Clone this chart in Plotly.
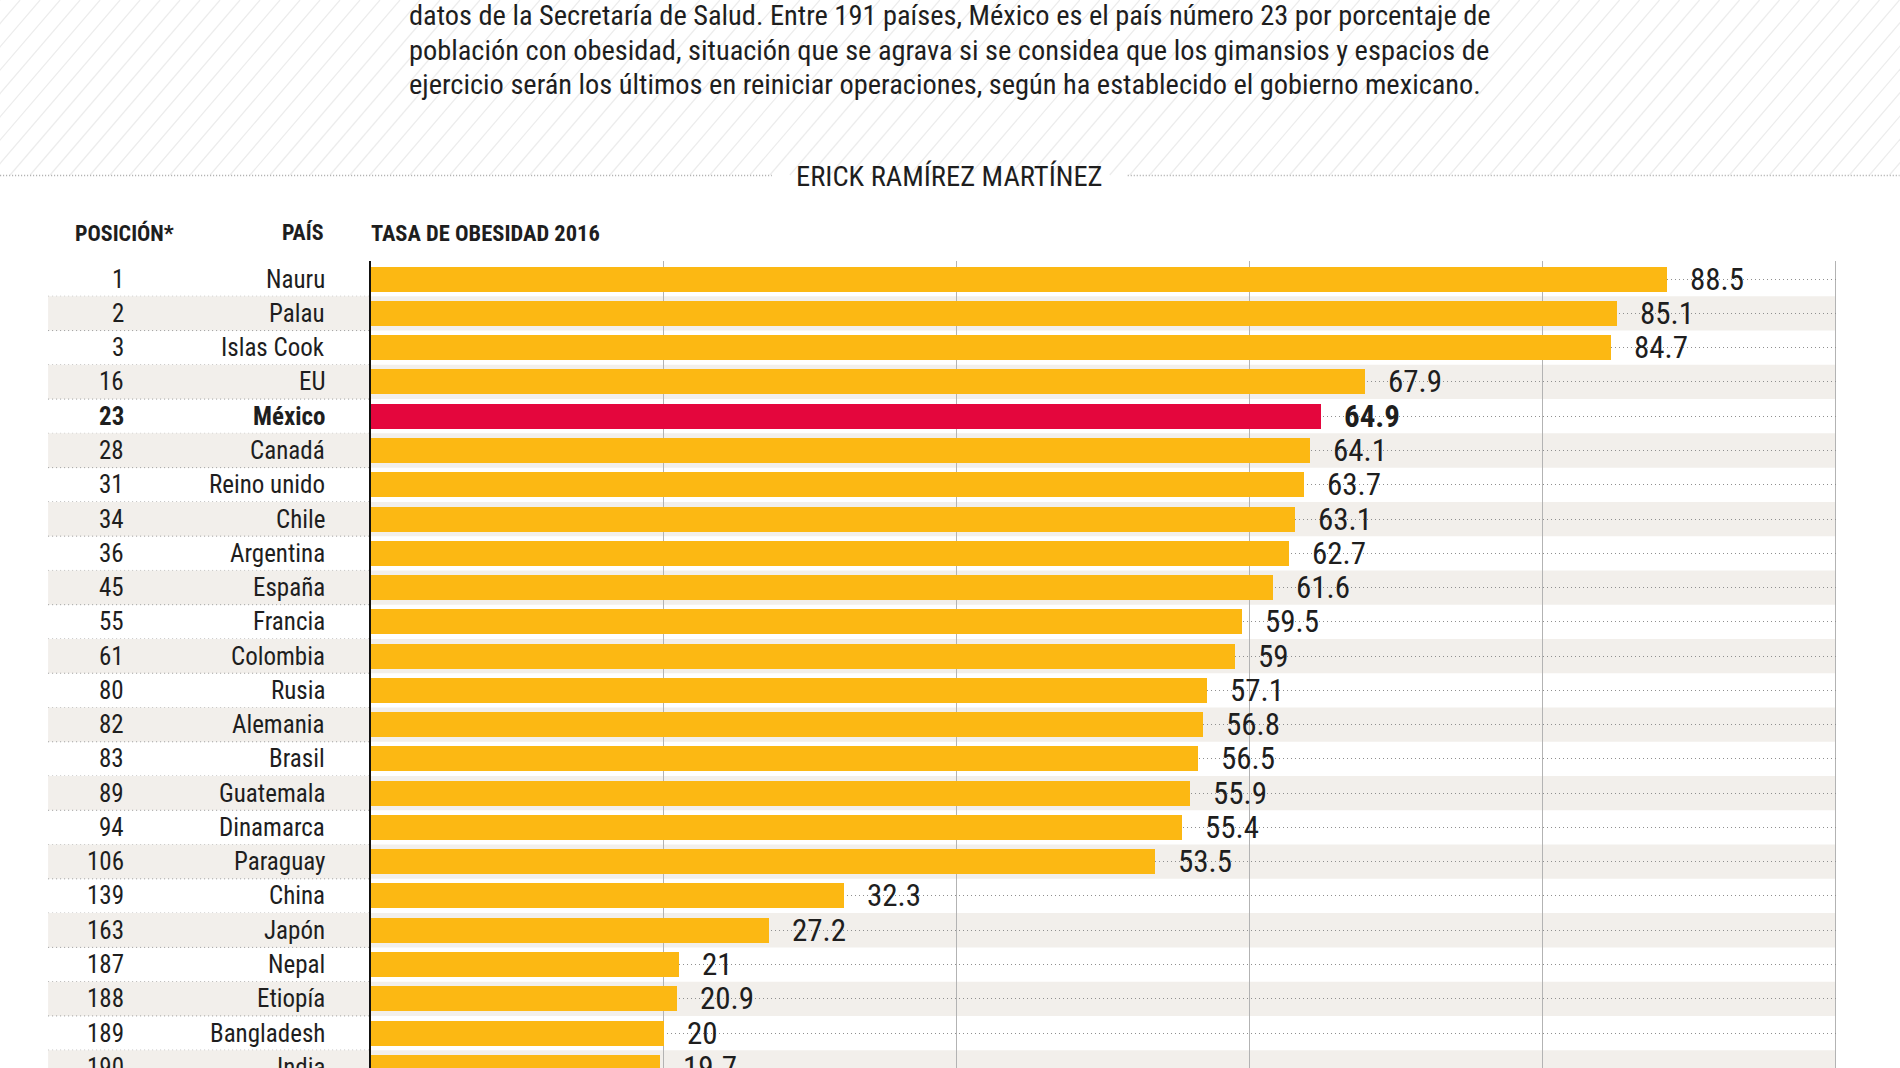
import plotly.graph_objects as go

# ---------------- data ----------------
positions = [1, 2, 3, 16, 23, 28, 31, 34, 36, 45, 55, 61, 80, 82, 83, 89, 94, 106,
             139, 163, 187, 188, 189, 190]
countries = ["Nauru", "Palau", "Islas Cook", "EU", "México", "Canadá", "Reino unido",
             "Chile", "Argentina", "España", "Francia", "Colombia", "Rusia", "Alemania",
             "Brasil", "Guatemala", "Dinamarca", "Paraguay", "China", "Japón", "Nepal",
             "Etiopía", "Bangladesh", "India"]
values = [88.5, 85.1, 84.7, 67.9, 64.9, 64.1, 63.7, 63.1, 62.7, 61.6, 59.5, 59, 57.1,
          56.8, 56.5, 55.9, 55.4, 53.5, 32.3, 27.2, 21, 20.9, 20, 19.7]
highlight = "México"
grid_ticks = [20, 40, 60, 80, 100]

intro_lines = [
    "datos de la Secretaría de Salud. Entre 191 países, México es el país número 23 por porcentaje de",
    "población con obesidad, situación que se agrava si se considea que los gimansios y espacios de",
    "ejercicio serán los últimos en reiniciar operaciones, según ha establecido el gobierno mexicano.",
]
author = "ERICK RAMÍREZ MARTÍNEZ"
headers = ["POSICIÓN*", "PAÍS", "TASA DE OBESIDAD 2016"]

# ---------------- layout geometry ----------------
FW, FH = 1900, 1068
L, T = 371, 261
PW = 1466.5
R = FW - L - PW
PH = FH - T

def px2x(px):
    return (px - L) / PW

def py2y(py):
    return (FH - py) / PH

FONT = "Liberation Sans Narrow, Arial Narrow, Roboto Condensed, sans-serif"
TXT = "#1e1e1e"
YELLOW = "#FCB813"
RED = "#E4063D"
STRIPE = "#F2EFEB"
DOTS = "1px,3px"

n = len(countries)
idx = list(range(n))
colors = [RED if c == highlight else YELLOW for c in countries]

fig = go.Figure()
fig.add_trace(go.Bar(
    y=idx, x=values, orientation="h", width=0.73,
    marker=dict(color=colors, line=dict(width=0)),
    hoverinfo="skip",
))

shapes = []
# hatched header background
step = 20
hatch_bottom = 175
dx = 150
xs = -dx
while xs < FW + 20:
    shapes.append(dict(type="line", xref="paper", yref="paper",
                       x0=px2x(xs), y0=py2y(hatch_bottom),
                       x1=px2x(xs + dx), y1=py2y(0),
                       line=dict(color="#ececec", width=1.2), layer="below"))
    xs += step

# author separator lines
for a, b in [(0, 772), (1128, FW)]:
    shapes.append(dict(type="line", xref="paper", yref="paper",
                       x0=px2x(a), x1=px2x(b), y0=py2y(175.5), y1=py2y(175.5),
                       line=dict(color="#a9a9a9", width=1.5, dash="1px,2px"), layer="below"))

# row stripes and left dotted separators
for i in idx:
    if i % 2 == 1:
        shapes.append(dict(type="rect", xref="paper", yref="y",
                           x0=px2x(48), x1=px2x(1836), y0=i - 0.5, y1=i + 0.5,
                           fillcolor=STRIPE, line=dict(width=0), layer="below"))
    shapes.append(dict(type="line", xref="paper", yref="y",
                       x0=px2x(48), x1=px2x(369), y0=i + 0.5, y1=i + 0.5,
                       line=dict(color="#9a9a9a", width=1, dash=DOTS), layer="below"))

annotations = []
# intro paragraph
for k, line in enumerate(intro_lines):
    annotations.append(dict(xref="paper", yref="paper", x=px2x(407), y=py2y(16 + 34 * k),
                            xanchor="left", yanchor="middle", showarrow=False, text=line,
                            font=dict(family=FONT, size=28.4, color=TXT)))
# author
annotations.append(dict(xref="paper", yref="paper", x=px2x(950), y=py2y(176),
                        xanchor="center", yanchor="middle", showarrow=False, text=author,
                        font=dict(family=FONT, size=28.5, color=TXT)))
# headers
annotations.append(dict(xref="paper", yref="paper", x=px2x(73), y=py2y(233),
                        xanchor="left", yanchor="middle", showarrow=False,
                        text="<b>" + headers[0] + "</b>",
                        font=dict(family=FONT, size=22, color=TXT)))
annotations.append(dict(xref="paper", yref="paper", x=px2x(326), y=py2y(233),
                        xanchor="right", yanchor="middle", showarrow=False,
                        text="<b>" + headers[1] + "</b>",
                        font=dict(family=FONT, size=22, color=TXT)))
annotations.append(dict(xref="paper", yref="paper", x=px2x(369), y=py2y(233),
                        xanchor="left", yanchor="middle", showarrow=False,
                        text="<b>" + headers[2] + "</b>",
                        font=dict(family=FONT, size=22.5, color=TXT)))

# row labels and values
for i, (p, c, v) in enumerate(zip(positions, countries, values)):
    bold = c == highlight
    ptxt = f"<b>{p}</b>" if bold else str(p)
    ctxt = f"<b>{c}</b>" if bold else c
    vtxt = f"{v:g}"
    vtxt = f"<b>{vtxt}</b>" if bold else vtxt
    annotations.append(dict(xref="paper", yref="y", x=px2x(126), y=i,
                            xanchor="right", yanchor="middle", showarrow=False, text=ptxt,
                            font=dict(family=FONT, size=25, color=TXT)))
    annotations.append(dict(xref="paper", yref="y", x=px2x(327), y=i,
                            xanchor="right", yanchor="middle", showarrow=False, text=ctxt,
                            font=dict(family=FONT, size=25, color=TXT)))
    annotations.append(dict(xref="x", yref="y", x=v, y=i, xshift=21,
                            xanchor="left", yanchor="middle", showarrow=False, text=vtxt,
                            font=dict(family=FONT, size=31, color=TXT)))

fig.update_layout(
    width=FW, height=FH,
    margin=dict(l=L, r=R, t=T, b=0, pad=0),
    paper_bgcolor="white", plot_bgcolor="rgba(0,0,0,0)",
    showlegend=False,
    bargap=0,
    shapes=shapes,
    annotations=annotations,
    xaxis=dict(range=[0, 100.1], tickvals=grid_ticks, showticklabels=False,
               showgrid=True, gridcolor="#b3b3b3", gridwidth=1, zeroline=False,
               showline=False, ticks="", fixedrange=True),
    yaxis=dict(range=[23.02, -0.53], tickvals=idx, showticklabels=False,
               showgrid=True, gridcolor="#8f8f8f", gridwidth=1, griddash=DOTS,
               zeroline=False, showline=True, linecolor="#111111", linewidth=2,
               ticks="", fixedrange=True),
)

fig.write_html("out.html", config={"displayModeBar": False})
